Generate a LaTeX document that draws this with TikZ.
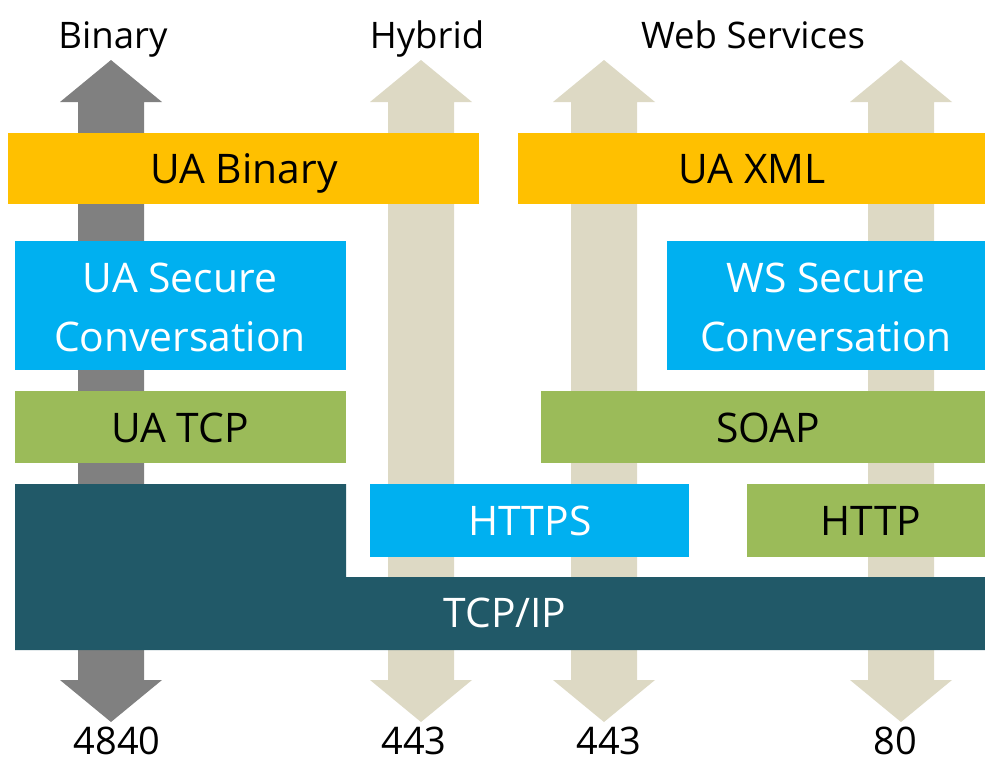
\documentclass[tikz,border=0pt]{standalone}
\usepackage{fontspec}
\setmainfont{Open Sans}
\usepackage{tikz}
\definecolor{uaorange}{HTML}{FFC000}
\definecolor{uablue}{HTML}{00B0F0}
\definecolor{uagreen}{HTML}{9BBB59}
\definecolor{uateal}{HTML}{215968}
\definecolor{portgray}{HTML}{808080}
\definecolor{portbeige}{HTML}{DDD9C4}

% double arrow for one port, centred on x
\newcommand{\portarrow}[2]{%
  \fill[#2] (#1,60) -- (#1+51,102) -- (#1+33,102) -- (#1+33,680) -- (#1+51,680)
    -- (#1,722) -- (#1-51,680) -- (#1-33,680) -- (#1-33,102) -- (#1-51,102) -- cycle;}

\tikzset{
  layertext/.style={font=\fontsize{29}{42}\selectfont, align=center, inner sep=0pt},
  headtext/.style={font=\fontsize{26}{30}\selectfont, inner sep=0pt, anchor=base},
  porttext/.style={font=\fontsize{27}{31}\selectfont, inner sep=0pt, anchor=base}
}

\begin{document}
\begin{tikzpicture}[x=0.025cm, y=-0.025cm]
    \useasboundingbox (0,0) rectangle (985,765);

    % Fleches des ports
    \portarrow{111}{portgray}
    \foreach \px in {421,604,901} {
        \portarrow{\px}{portbeige}
    }

    % Titres
    \node[headtext] (binary) at (113,48) {Binary};
    \node[headtext] (hybrid) at (427,48) {Hybrid};
    \node[headtext] (websvc) at (753,48) {Web Services};

    % Couche encodage
    \fill[uaorange] (8,133) rectangle (479,204);
    \fill[uaorange] (518,133) rectangle (985,204);
    \node[layertext, anchor=base] (uabin) at (244,183) {UA Binary};
    \node[layertext, anchor=base] (uaxml) at (752,183) {UA XML};

    % Couche securite
    \fill[uablue] (15,241) rectangle (346,370);
    \fill[uablue] (667,241) rectangle (985,370);
    \node[layertext, text=white] (uasc) at (180,307) {UA Secure\\Conversation};
    \node[layertext, text=white] (wssc) at (826,307) {WS Secure\\Conversation};

    % Couche transport
    \fill[uagreen] (15,391) rectangle (346,463);
    \fill[uagreen] (541,391) rectangle (985,463);
    \node[layertext, anchor=base] (uatcp) at (180,442) {UA TCP};
    \node[layertext, anchor=base] (soap) at (768,442) {SOAP};

    \fill[uablue] (370,484) rectangle (689,557);
    \fill[uagreen] (747,484) rectangle (985,557);
    \node[layertext, anchor=base, text=white] (https) at (530,535) {HTTPS};
    \node[layertext, anchor=base] (http) at (871,535) {HTTP};

    % TCP/IP en L
    \fill[uateal] (15,484) -- (346,484) -- (346,577) -- (985,577) -- (985,650) -- (15,650) -- cycle;
    \node[layertext, anchor=base, text=white] (tcpip) at (505,627) {TCP/IP};

    % Numeros de port
    \node[porttext] (p4840) at (117,754) {4840};
    \node[porttext] (p443a) at (414,754) {443};
    \node[porttext] (p443b) at (609,754) {443};
    \node[porttext] (p80) at (895,754) {80};
\end{tikzpicture}
\end{document}
